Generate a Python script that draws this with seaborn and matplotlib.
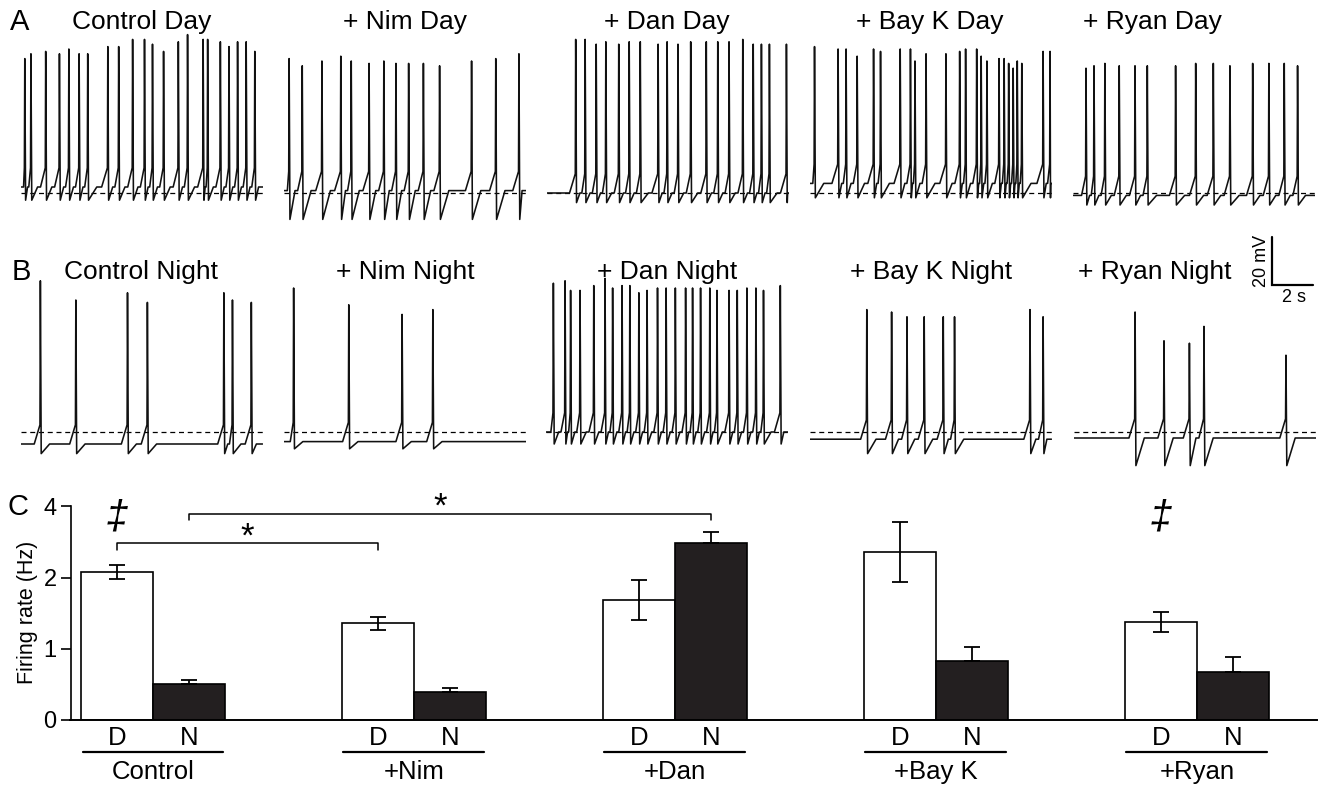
import matplotlib
matplotlib.use("Agg")
import matplotlib.pyplot as plt
import seaborn as sns
import numpy as np
import pandas as pd

# ---------------- data ----------------
# spike times (s from trace start) and spike peaks (mV above the dashed line)
ctrl_day_t = [0.17, 0.47, 1.19, 1.86, 2.32, 2.82, 3.24, 4.22, 4.75, 5.43, 6.01, 6.40,
              6.94, 7.66, 8.11, 8.87, 9.09, 9.71, 10.13, 10.55, 10.97, 11.39]
ctrl_day_pk = [56, 58, 59, 58, 60, 58, 58, 61, 61, 64, 64, 62, 59, 63, 66, 64, 64, 63, 61, 63, 63, 59]
nim_day_t = [0.25, 0.89, 1.85, 2.77, 3.28, 4.15, 4.87, 5.46, 6.08, 6.80, 7.59, 9.15, 10.33, 11.46]
nim_day_pk = [56, 53, 55, 57, 55, 54, 55, 54, 54, 54, 53, 55, 56, 58]
dan_day_t = [1.39, 1.85, 2.39, 2.86, 3.49, 4.00, 4.54, 5.41, 5.85, 6.38, 7.00, 7.76, 8.32,
             8.87, 9.54, 10.05, 10.45, 10.84, 11.67]
dan_day_pk = [64, 64, 62, 63, 62, 63, 63, 62, 63, 62, 63, 63, 63, 63, 64, 62, 62, 62, 62]
bay_day_t = [0.24, 1.39, 1.78, 2.32, 3.12, 3.46, 4.42, 4.92, 5.14, 5.68, 6.65, 7.32, 7.61,
             8.15, 8.37, 8.65, 9.24, 9.49, 9.71, 9.93, 10.13, 10.35, 11.39, 11.73]
bay_day_pk = [61, 60, 60, 57, 60, 59, 60, 60, 55, 58, 58, 59, 60, 60, 57, 55, 56, 56, 54, 52,
              55, 54, 59, 59]
ryan_day_t = [0.62, 1.01, 1.54, 2.24, 3.01, 3.61, 4.99, 5.97, 6.83, 7.64, 8.75, 9.54, 10.29, 10.94]
ryan_day_pk = [52, 53, 54, 53, 53, 53, 53, 54, 54, 53, 54, 54, 54, 53]

ctrl_night_t = [0.96, 2.69, 5.21, 6.18, 9.91, 10.33, 11.25]
ctrl_night_pk = [63, 55, 58, 54, 58, 55, 54]
nim_night_t = [0.47, 3.16, 5.76, 7.26]
nim_night_pk = [60, 53, 49, 51]
dan_night_t = [0.35, 0.92, 1.19, 1.65, 2.32, 2.87, 3.24, 3.70, 4.08, 4.52, 4.92, 5.43, 5.85,
               6.30, 6.80, 7.14, 7.53, 7.98, 8.33, 8.92, 9.32, 9.79, 10.23, 10.60, 11.42]
dan_night_pk = [62, 63, 59, 59, 61, 64, 60, 61, 61, 58, 59, 60, 60, 60, 60, 60, 60, 60, 59,
                59, 59, 60, 60, 59, 61]
bay_night_t = [2.79, 4.00, 4.75, 5.59, 6.52, 7.07, 10.75, 11.39]
bay_night_pk = [51, 50, 48, 48, 48, 48, 51, 48]
ryan_night_t = [2.98, 4.39, 5.63, 6.34, 10.34]
ryan_night_pk = [50, 38, 37, 44, 32]

# resting level and after-hyperpolarisation level (mV, relative to dashed line)
day_rest = [2.5, 1, 0, 4, -1]
day_ahp = [-3, -11, -4, -2, -5]
night_rest = [-5, -4, 0, -3, -2.5]
night_ahp = [-9, -7, -5, -9, -14]

day_titles = ["Control Day", "+ Nim Day", "+ Dan Day", "+ Bay K Day", "+ Ryan Day"]
night_titles = ["Control Night", "+ Nim Night", "+ Dan Night", "+ Bay K Night", "+ Ryan Night"]

# bar chart (panel C)
conditions = ["Control", "+Nim", "+Dan", "+Bay K", "+Ryan"]
day_rate = [2.08, 1.36, 1.68, 2.36, 1.37]
day_sem = [0.10, 0.09, 0.28, 0.42, 0.14]
night_rate = [0.51, 0.40, 2.49, 0.83, 0.68]
night_sem = [0.05, 0.05, 0.15, 0.20, 0.20]
y_ticks = [0, 1, 2, 3]
y_ticklabels = ["0", "1", "2", "4"]

# ---------------- layout ----------------
W, H = 1329, 785
TRACE_LEN = 11.8          # s
PX_PER_S = 20.5
PX_PER_MV = 2.4
VMIN, VMAX = -15, 72

day_left = [21.3, 284, 547.2, 809.6, 1073.3]
night_left = [20.7, 284, 546.2, 809.6, 1074]
day_base_y = 193
night_base_y = 432


def frac(left, top, width, height):
    return [left / W, (H - top - height) / H, width / W, height / H]


def build_trace(spikes, peaks, rest, ahp, t_end=TRACE_LEN, thr=8):
    t = [0.0]
    v = [rest]
    n = len(spikes)
    for i, (ts, pk) in enumerate(zip(spikes, peaks)):
        gap_before = ts - (spikes[i - 1] if i else 0.0)
        gap_after = (spikes[i + 1] if i + 1 < n else t_end) - ts
        t += [ts - min(0.3, 0.35 * gap_before), ts - 0.02, ts,
              ts + min(0.04, 0.3 * gap_after), ts + min(0.45, 0.45 * gap_after)]
        v += [rest, rest + thr, pk, ahp, rest]
    t.append(t_end)
    v.append(rest)
    return t, v


sns.set_style("ticks")
plt.rcParams["font.family"] = ["Liberation Sans", "DejaVu Sans"]
plt.rcParams.update({
    "text.color": "black",
    "axes.edgecolor": "black",
    "axes.labelcolor": "black",
    "xtick.color": "black",
    "ytick.color": "black",
})

fig = plt.figure(figsize=(W / 100, H / 100), dpi=100)
ov = fig.add_axes([0, 0, 1, 1])
ov.set_xlim(0, W)
ov.set_ylim(H, 0)
ov.axis("off")

day_data = [(ctrl_day_t, ctrl_day_pk), (nim_day_t, nim_day_pk), (dan_day_t, dan_day_pk),
            (bay_day_t, bay_day_pk), (ryan_day_t, ryan_day_pk)]
night_data = [(ctrl_night_t, ctrl_night_pk), (nim_night_t, nim_night_pk),
              (dan_night_t, dan_night_pk), (bay_night_t, bay_night_pk),
              (ryan_night_t, ryan_night_pk)]

trace_h = (VMAX - VMIN) * PX_PER_MV
trace_w = TRACE_LEN * PX_PER_S
title_x_day = [142, 405, 667, 930, 1152]
title_x_night = [141, 405, 667, 931, 1155]

rows = [
    (day_data, day_rest, day_ahp, day_left, day_base_y, day_titles, title_x_day, 22),
    (night_data, night_rest, night_ahp, night_left, night_base_y, night_titles, title_x_night, 272),
]
trace_axes = []
for data, rests, ahps, lefts, base_y, titles, tx, ty in rows:
    for (spk, pks), rest, ahp, left, title, x_t in zip(data, rests, ahps, lefts, titles, tx):
        top = base_y - VMAX * PX_PER_MV
        ax = fig.add_axes(frac(left, top, trace_w, trace_h))
        t, v = build_trace(spk, pks, rest, ahp)
        ax.axhline(0, color="black", lw=0.9, ls=(0, (4, 3)))
        sns.lineplot(x=t, y=v, sort=False, estimator=None, color="#111111", lw=1.15, ax=ax)
        ax.set_xlim(0, TRACE_LEN)
        ax.set_ylim(VMIN, VMAX)
        ax.axis("off")
        ov.text(x_t, ty, title, fontsize=19, ha="center", va="center")
        trace_axes.append(ax)

# scale bar on the last night trace
sb = trace_axes[-1]
sb_t, sb_v = 9.66, 61.25
sb.plot([sb_t, sb_t, sb_t + 2], [sb_v + 20, sb_v, sb_v], color="black", lw=1.6,
        clip_on=False, solid_joinstyle="miter")
ov.text(1262, 261, "20 mV", rotation=90, fontsize=13, ha="center", va="center")
ov.text(1294, 298, "2 s", fontsize=13, ha="center", va="center")

# panel letters
ov.text(20, 22, "A", fontsize=21, ha="center", va="center")
ov.text(21, 272, "B", fontsize=21, ha="center", va="center")
ov.text(18, 507, "C", fontsize=21, ha="center", va="center")

# ---------------- panel C ----------------
narrow = ["Liberation Sans Narrow", "Liberation Sans", "DejaVu Sans"]
ax_c = fig.add_axes(frac(70.5, 502.8, 1246.5, 217.2))
df = pd.DataFrame({
    "condition": conditions * 2,
    "phase": ["D"] * len(conditions) + ["N"] * len(conditions),
    "rate": day_rate + night_rate,
})
sns.barplot(data=df, x="condition", y="rate", hue="phase", order=conditions,
            hue_order=["D", "N"], palette={"D": "white", "N": "#231f20"},
            edgecolor="black", linewidth=1.2, width=0.55, errorbar=None,
            saturation=1, legend=False, ax=ax_c)
xs = np.arange(len(conditions))
off = 0.55 / 4
ax_c.errorbar(xs - off, day_rate, yerr=day_sem, fmt="none", ecolor="black",
              elinewidth=1.3, capsize=5.5, capthick=1.3)
ax_c.errorbar(xs + off, night_rate, yerr=[np.zeros(len(xs)), night_sem], fmt="none",
              ecolor="black", elinewidth=1.3, capsize=5.5, capthick=1.3)

ax_c.set_xlim(-0.316, 4.46)
ax_c.set_ylim(0, 3.05)
ax_c.set_xticks([])
ax_c.set_xlabel("")
ax_c.set_ylabel("")
ax_c.set_yticks(y_ticks)
ax_c.set_yticklabels(y_ticklabels, family=narrow, fontsize=17)
ax_c.tick_params(axis="y", direction="out", length=7, width=1.2, pad=3)
for s in ["top", "right"]:
    ax_c.spines[s].set_visible(False)
ax_c.spines["left"].set_bounds(0, 3)
ax_c.spines["left"].set_linewidth(1.2)
ax_c.spines["bottom"].set_linewidth(1.4)
ov.text(27, 612, "Firing rate (Hz)", rotation=90, fontsize=15.5, family=narrow,
        ha="center", va="center")

# significance brackets
ax_c.plot([-off, -off, 1 - off, 1 - off], [2.39, 2.48, 2.48, 2.39], color="black",
          lw=1.1, clip_on=False)
ax_c.text(0.36, 2.57, "*", fontsize=25, ha="center", va="center")
ax_c.plot([off, off, 2 + off, 2 + off], [2.81, 2.89, 2.89, 2.81], color="black",
          lw=1.1, clip_on=False)
ax_c.text(1.1, 2.99, "*", fontsize=25, ha="center", va="center", clip_on=False)
for xi in [0, 4]:
    ax_c.text(xi - off, 2.85, "\u2021", fontsize=29, style="italic", ha="center",
              va="center", clip_on=False)

# D / N labels, group underline and names
for xi, name in zip(xs, conditions):
    ax_c.text(xi - off, -0.25, "D", fontsize=18.5, family=narrow, ha="center", va="center",
              clip_on=False)
    ax_c.text(xi + off, -0.25, "N", fontsize=18.5, family=narrow, ha="center", va="center",
              clip_on=False)
    ax_c.plot([xi - 0.27, xi + 0.27], [-0.45, -0.45], color="black", lw=1.6, clip_on=False)
    ax_c.text(xi, -0.73, name, fontsize=18.5, family=narrow, ha="center", va="center",
              clip_on=False)

fig.savefig("out.png", dpi=100)
